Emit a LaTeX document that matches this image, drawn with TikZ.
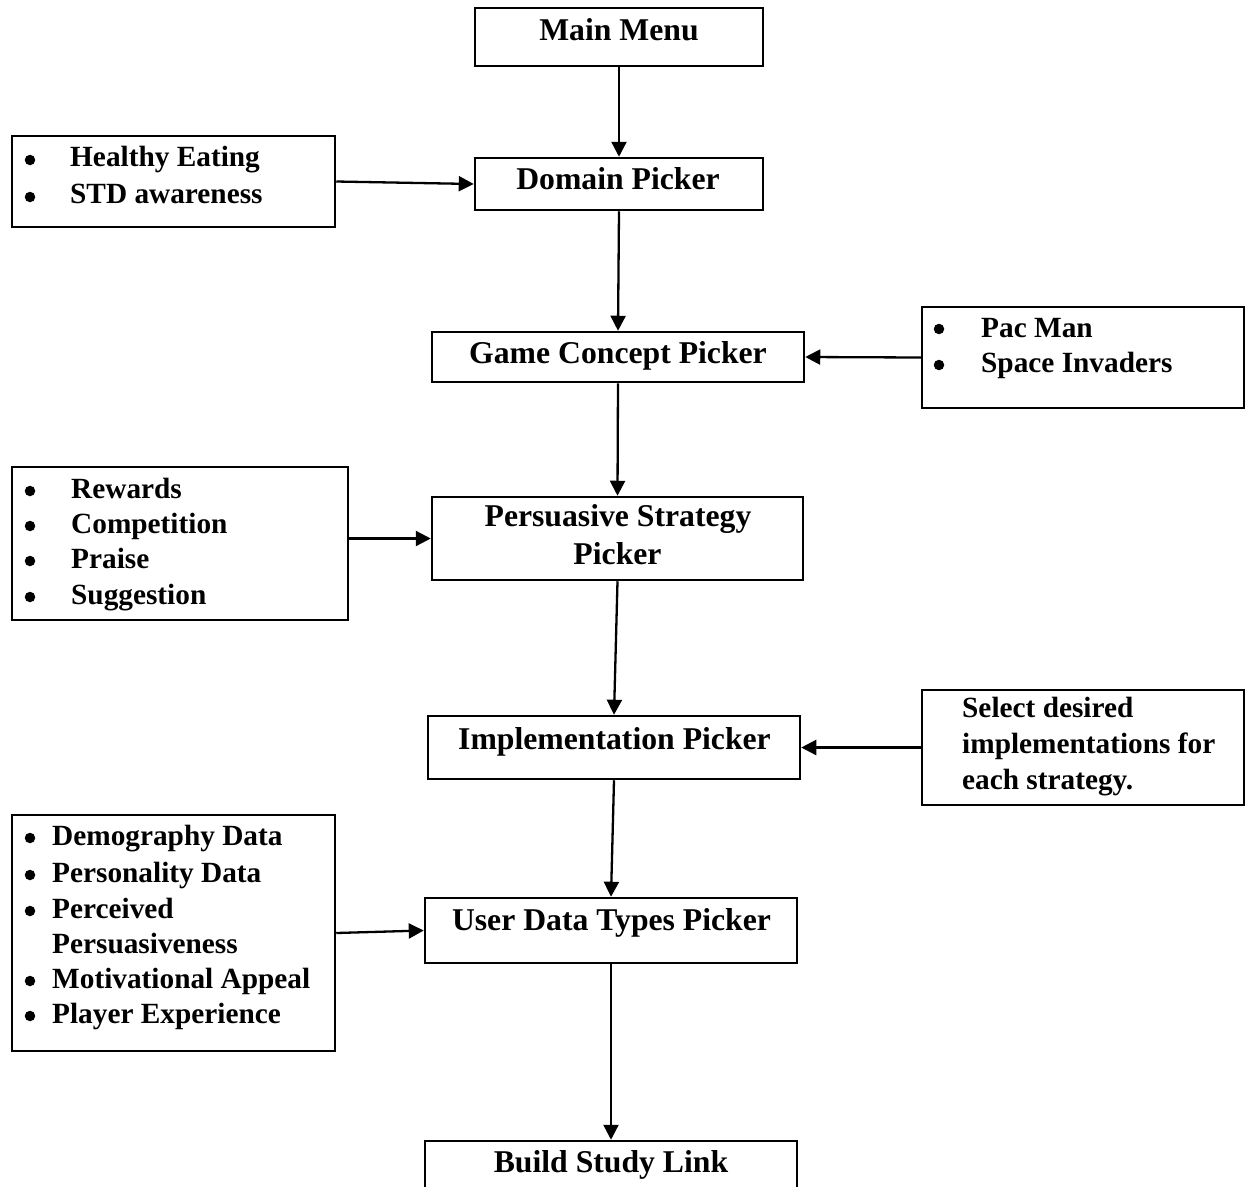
\documentclass[tikz,border=0pt]{standalone}
\usepackage{fontspec}
\setmainfont{Liberation Serif}
\usetikzlibrary{arrows.meta}
\begin{document}
\begin{tikzpicture}[x=1bp,y=-1bp,
  box/.style={draw, line width=2.5bp, inner sep=0pt},
  txt/.style={font=\bfseries\fontsize{31.7bp}{36bp}\selectfont, inner sep=0pt, anchor=base},
  itm/.style={font=\bfseries\fontsize{29.3bp}{36bp}\selectfont, inner sep=0pt, anchor=base west},
  bul/.style={circle, fill, inner sep=0pt, minimum size=10.5bp},
  arr/.style={line width=2.3bp, -{Triangle[length=15bp,width=15bp]}}]
\useasboundingbox (0,0) rectangle (1249,1187);
\fill[white] (0,0) rectangle (1249,1187);
\clip (0,0) rectangle (1249,1187);

% main column boxes
\node[box, minimum width=288bp, minimum height=58bp] (mm) at (619,37) {};
\node[box, minimum width=288bp, minimum height=52bp] (dp) at (619,184) {};
\node[box, minimum width=372bp, minimum height=50bp] (gc) at (618,357) {};
\node[box, minimum width=371bp, minimum height=83bp] (ps) at (617.5,538.5) {};
\node[box, minimum width=372bp, minimum height=63bp] (ip) at (614,747.5) {};
\node[box, minimum width=372bp, minimum height=65bp] (ud) at (611,930.5) {};
\node[box, minimum width=372bp, minimum height=90bp] (bl) at (611,1186) {};

% side boxes
\node[box, minimum width=323bp, minimum height=91bp] (hb) at (173.5,181.5) {};
\node[box, minimum width=322bp, minimum height=101bp] (pb) at (1083,357.5) {};
\node[box, minimum width=336bp, minimum height=153bp] (rb) at (180,543.5) {};
\node[box, minimum width=322bp, minimum height=115bp] (sb) at (1083,747.5) {};
\node[box, minimum width=323bp, minimum height=236bp] (db) at (173.5,933) {};

% titles
\node[txt] (tmm) at (619,40) {Main Menu};
\node[txt] (tdp) at (618,189) {Domain Picker};
\node[txt] (tgc) at (618,363) {Game Concept Picker};
\node[txt] (tps1) at (618,526) {Persuasive Strategy};
\node[txt] (tps2) at (617.5,564) {Picker};
\node[txt] (tip) at (614.5,749) {Implementation Picker};
\node[txt] (tud) at (611.5,930) {User Data Types Picker};
\node[txt] (tbl) at (611,1172) {Build Study Link};

% Healthy list
\node[bul] (hb1) at (30,160) {};
\node[itm] (ht1) at (70,166) {Healthy Eating};
\node[bul] (hb2) at (30,197) {};
\node[itm] (ht2) at (70,203) {STD awareness};

% Pac list
\node[bul] (pb1) at (939,329) {};
\node[itm] (pt1) at (981,337) {Pac Man};
\node[bul] (pb2) at (939,365) {};
\node[itm] (pt2) at (981,372) {Space Invaders};

% Rewards list
\node[bul] (rb1) at (30,491) {};
\node[itm] (rt1) at (71,498) {Rewards};
\node[bul] (rb2) at (30,526) {};
\node[itm] (rt2) at (71,533) {Competition};
\node[bul] (rb3) at (30,561) {};
\node[itm] (rt3) at (71,568) {Praise};
\node[bul] (rb4) at (30,597) {};
\node[itm] (rt4) at (71,604) {Suggestion};

% Select text
\node[itm] (st1) at (962,717) {Select desired};
\node[itm] (st2) at (962,753) {implementations for};
\node[itm] (st3) at (962,789) {each strategy.};

% Demography list
\node[bul] (db1) at (30,838) {};
\node[itm] (dt1) at (52,845) {Demography Data};
\node[bul] (db2) at (30,875) {};
\node[itm] (dt2) at (52,882) {Personality Data};
\node[bul] (db3) at (30,911) {};
\node[itm] (dt3) at (52,918) {Perceived};
\node[itm] (dt4) at (52,953) {Persuasiveness};
\node[bul] (db4) at (30,981) {};
\node[itm] (dt5) at (52,988) {Motivational Appeal};
\node[bul] (db5) at (30,1016) {};
\node[itm] (dt6) at (52,1023) {Player Experience};

% vertical connectors
\draw[arr] (mm.south) -- (dp.north);
\draw[arr] (dp.south) -- (gc.north);
\draw[arr] (gc.south) -- (ps.north);
\draw[arr] (ps.south) -- (ip.north);
\draw[arr] (ip.south) -- (ud.north);
\draw[arr] (ud.south) -- (bl.north);

% horizontal connectors
\draw[arr] (hb.east) -- (dp.west);
\draw[arr] (pb.west) -- (gc.east);
\draw[arr] (rb.east |- ps.west) -- (ps.west);
\draw[arr] (sb.west) -- (ip.east);
\draw[arr] (db.east) -- (ud.west);
\end{tikzpicture}
\end{document}
